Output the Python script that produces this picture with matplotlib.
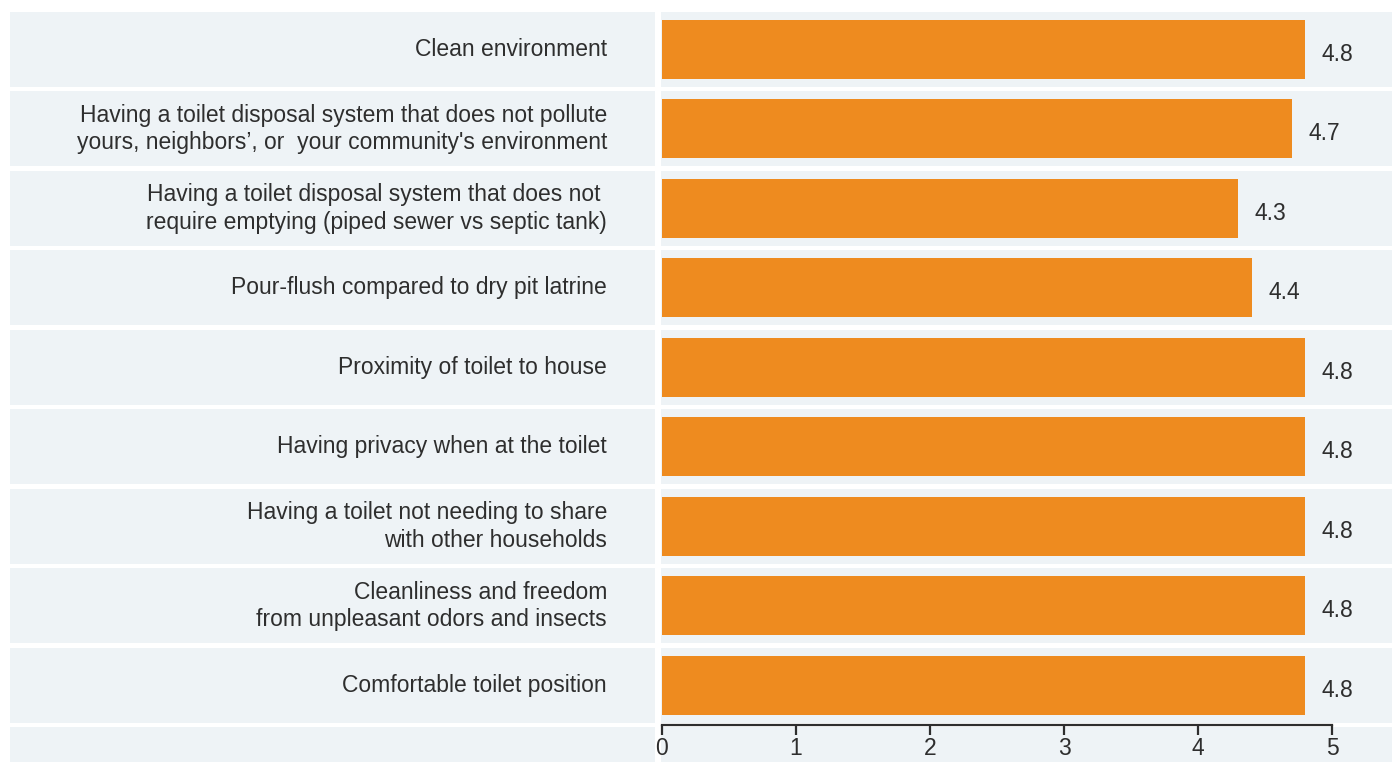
import matplotlib
matplotlib.use("Agg")
import matplotlib.pyplot as plt

plt.rcParams['font.family'] = ['Liberation Sans', 'DejaVu Sans']

# Survey attributes (top to bottom) and their mean importance ratings
categories = [
    "Clean environment",
    "Having a toilet disposal system that does not pollute\nyours, neighbors\u2019, or  your community's environment",
    "Having a toilet disposal system that does not \nrequire emptying (piped sewer vs septic tank)",
    "Pour-flush compared to dry pit latrine",
    "Proximity of toilet to house",
    "Having privacy when at the toilet",
    "Having a toilet not needing to share\nwith other households",
    "Cleanliness and freedom\nfrom unpleasant odors and insects",
    "Comfortable toilet position",
]
values = [4.8, 4.7, 4.3, 4.4, 4.8, 4.8, 4.8, 4.8, 4.8]
value_labels = ["4.8", "4.7", "4.3", "4.4", "4.8", "4.8", "4.8", "4.8", "4.8"]
xticks = [0, 1, 2, 3, 4, 5]

BAR = "#EE8B1F"
BAND = "#EEF3F6"
TEXT = "#2E2E2E"
FS = 16.5

W, H = 1392, 762
fig = plt.figure(figsize=(W / 100, H / 100), dpi=100)
fig.patch.set_facecolor("white")

n = len(categories)
pitch = 79.5                  # pixels per row
ytop = -49.5 / pitch          # data value at the top edge of the figure
ybot = ytop + H / pitch       # data value at the bottom edge
half_band = 37.5 / pitch
axis_y = n - 1 + (725 - 685.5) / pitch
bottom_band = (n - 1 + (727 - 685.5) / pitch, ybot + 0.1)

# Left panel: category labels
axl = fig.add_axes([10 / W, 0, 645 / W, 1])
axl.set_xlim(0, 645)
axl.set_ylim(ybot, ytop)
axl.axis("off")

# Right panel: bars
x0 = 662
px_per_unit = 134
axr = fig.add_axes([661 / W, 0, (W - 661) / W, 1])
axr.set_xlim(-(x0 - 661) / px_per_unit, (W - x0) / px_per_unit)
axr.set_ylim(ybot, ytop)
axr.patch.set_alpha(0)

for ax in (axl, axr):
    for i in range(n):
        ax.axhspan(i - half_band, i + half_band, color=BAND, lw=0, zorder=0)
    ax.axhspan(*bottom_band, color=BAND, lw=0, zorder=0)

for i, lab in enumerate(categories):
    axl.text(597, i, lab, ha="right", va="center", fontsize=FS,
             color=TEXT, linespacing=1.27)

ypos = list(range(n))
axr.barh(ypos, values, height=59 / pitch, color=BAR, lw=0, zorder=2)
for y, v, s in zip(ypos, values, value_labels):
    axr.text(v + 0.125, y + 5 / pitch, s, ha="left", va="center",
             fontsize=FS, color=TEXT, zorder=3)

for side in ("top", "right", "left"):
    axr.spines[side].set_visible(False)
axr.spines["bottom"].set_position(("data", axis_y))
axr.spines["bottom"].set_bounds(0, 5)
axr.spines["bottom"].set_color(TEXT)
axr.spines["bottom"].set_linewidth(1.6)
axr.set_xticks(xticks)
axr.set_xticklabels([str(t) for t in xticks])
axr.tick_params(axis="x", direction="out", length=7, width=1.6,
                color=TEXT, labelsize=FS, labelcolor=TEXT, pad=2)
axr.set_yticks([])

fig.savefig("out.png", dpi=100, facecolor="white")
